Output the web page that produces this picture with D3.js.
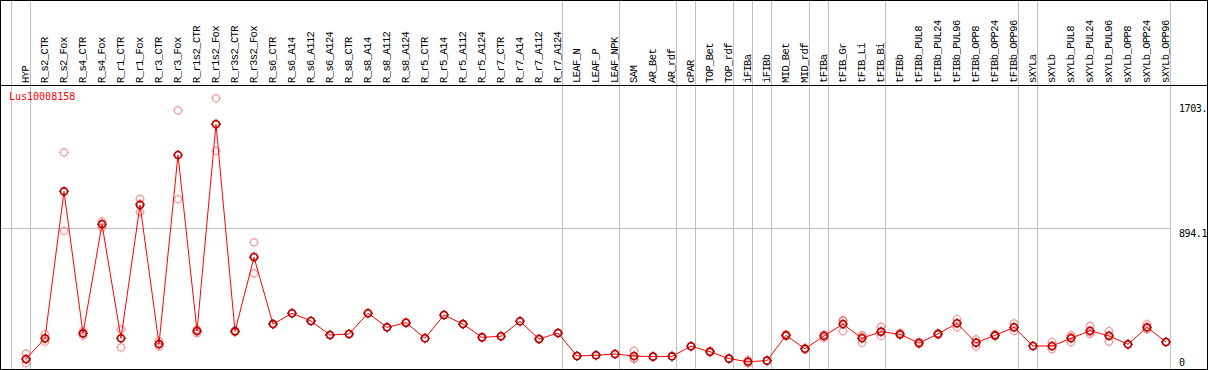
<!DOCTYPE html>
<html>
<head>
<meta charset="utf-8">
<script src="https://cdn.jsdelivr.net/npm/d3@7"></script>
<style>
  body { margin: 0; background: #fff; }
  text { font-family: "DejaVu Sans Mono", monospace; }
  .clabel { font-family: "Liberation Mono", "DejaVu Sans Mono", monospace; }
</style>
</head>
<body>
<div id="chart"></div>
<script>
// data ********************************
var gene = 'Lus10008158';

var categories = ['HYP', 'R_s2_CTR', 'R_s2_Fox', 'R_s4_CTR', 'R_s4_Fox', 'R_r1_CTR', 'R_r1_Fox',
  'R_r3_CTR', 'R_r3_Fox', 'R_r1s2_CTR', 'R_r1s2_Fox', 'R_r3s2_CTR', 'R_r3s2_Fox',
  'R_s6_CTR', 'R_s6_A14', 'R_s6_A112', 'R_s6_A124', 'R_s8_CTR', 'R_s8_A14', 'R_s8_A112', 'R_s8_A124',
  'R_r5_CTR', 'R_r5_A14', 'R_r5_A112', 'R_r5_A124', 'R_r7_CTR', 'R_r7_A14', 'R_r7_A112', 'R_r7_A124',
  'LEAF_N', 'LEAF_P', 'LEAF_NPK', 'SAM', 'AR_Bet', 'AR_rdf', 'cPAR', 'TOP_Bet', 'TOP_rdf',
  'iFIBa', 'iFIBb', 'MID_Bet', 'MID_rdf', 'tFIBa', 'tFIB_Gr', 'tFIB_Li', 'tFIB_Bi',
  'tFIBb', 'tFIBb_PUL8', 'tFIBb_PUL24', 'tFIBb_PUL96', 'tFIBb_OPP8', 'tFIBb_OPP24', 'tFIBb_OPP96',
  'sXYLa', 'sXYLb', 'sXYLb_PUL8', 'sXYLb_PUL24', 'sXYLb_PUL96', 'sXYLb_OPP8', 'sXYLb_OPP24', 'sXYLb_OPP96'];

var means = [47, 181, 1133, 213, 920, 181, 1045, 144, 1369, 228, 1568, 226, 706,
  273, 343, 293, 202, 209, 343, 252, 282, 181, 332, 273, 187, 194, 291, 176, 215,
  66, 71, 79, 66, 62, 64, 129, 94, 49, 29, 36, 200, 113, 196, 273, 181, 224,
  207, 150, 209, 278, 152, 200, 252, 131, 131, 181, 230, 196, 142, 252, 157];

var rep1 = [81, 207, 1386, 228, 937, 239, 1084, 163, 1658, 239, 1736, 230, 803,
  273, 343, 293, 202, 209, 343, 252, 282, 181, 332, 273, 187, 194, 291, 176, 215,
  66, 71, 79, 100, 62, 64, 129, 100, 49, 40, 36, 206, 118, 206, 299, 190, 256,
  216, 158, 214, 306, 174, 206, 278, 131, 157, 200, 261, 228, 142, 273, 157];

var rep2 = [19, 159, 878, 198, 922, 122, 997, 140, 1082, 214, 1395, 221, 602,
  273, 343, 293, 202, 209, 343, 252, 282, 181, 332, 273, 187, 194, 291, 176, 215,
  66, 71, 79, 51, 62, 64, 129, 88, 49, 18, 36, 194, 108, 183, 226, 152, 196,
  203, 143, 203, 252, 126, 194, 228, 131, 110, 155, 209, 159, 142, 240, 157];

var rep3 = [41, 177, 1135, 213, 901, 182, 1054, 129, 1367, 231, 1573, 227, 713,
  273, 343, 293, 202, 209, 343, 252, 282, 181, 332, 273, 187, 194, 291, 176, 215,
  66, 71, 79, 47, 62, 64, 129, 94, 49, 29, 36, 200, 113, 199, 294, 201, 220,
  202, 149, 210, 276, 156, 200, 250, 131, 126, 188, 220, 201, 142, 243, 157];

// y axis: values shown on the right, gridline only at the middle one
var yMax = 1788.2;
var yTicks = [0, 894.1, 1703.6];
var yGrid = [894.1];

// last category of each group (grey separator drawn after it)
var groupEnds = ['HYP', 'R_r7_A124', 'LEAF_NPK', 'AR_rdf', 'cPAR', 'TOP_rdf', 'iFIBa', 'iFIBb',
  'MID_rdf', 'tFIBa', 'tFIB_Bi', 'tFIBb_OPP96', 'sXYLa', 'sXYLb_OPP96'];

// sizes ***********
var svgWidth = 1209;
var svgHeight = 370;
var headerH = 85;
var plotBottom = 369;

var svg = d3.select('#chart')
  .append('svg')
  .attr('width', svgWidth)
  .attr('height', svgHeight);

// scales ***********
var xBand = d3.scaleBand()
  .domain(categories)
  .range([11, 1170]);

var xPoint = c => xBand(c) + 15;

var yScale = d3.scaleLinear()
  .domain([0, yMax])
  .range([366.2, 90.3]);

// grey grid lines ***********
svg.append('line')
  .attr('x1', 11.5).attr('x2', 11.5)
  .attr('y1', 0).attr('y2', plotBottom)
  .attr('stroke', '#c0c0c0');

svg.selectAll('.vgrid')
  .data(groupEnds)
  .enter()
  .append('line')
  .attr('class', 'vgrid')
  .attr('x1', d => Math.round(xBand(d) + xBand.bandwidth()) + 0.5)
  .attr('x2', d => Math.round(xBand(d) + xBand.bandwidth()) + 0.5)
  .attr('y1', 0)
  .attr('y2', plotBottom)
  .attr('stroke', '#c0c0c0');

svg.selectAll('.hgrid')
  .data(yGrid)
  .enter()
  .append('line')
  .attr('class', 'hgrid')
  .attr('x1', 0)
  .attr('x2', 1170)
  .attr('y1', d => Math.round(yScale(d)) + 0.5)
  .attr('y2', d => Math.round(yScale(d)) + 0.5)
  .attr('stroke', '#c0c0c0');

// frame ***********
svg.append('rect')
  .attr('x', 0.5).attr('y', 0.5)
  .attr('width', 1207).attr('height', plotBottom)
  .attr('fill', 'none')
  .attr('stroke', '#000');

svg.append('line')
  .attr('x1', 0).attr('x2', 1208)
  .attr('y1', headerH + 0.5).attr('y2', headerH + 0.5)
  .attr('stroke', '#000');

// category labels, rotated ***********
svg.selectAll('.clabel')
  .data(categories)
  .enter()
  .append('text')
  .attr('class', 'clabel')
  .attr('transform', d => `translate(${xBand(d) + 17.5}, 83) rotate(-90)`)
  .style('font-size', '10.5px')
  .style('letter-spacing', '-0.6px')
  .attr('fill', '#000')
  .text(d => d);

// y tick labels, truncated to 5 chars ***********
svg.selectAll('.ylabel')
  .data(yTicks)
  .enter()
  .append('text')
  .attr('class', 'ylabel')
  .attr('x', 1179)
  .attr('y', d => Math.min(yScale(d) + 8.5, 366))
  .style('font-size', '10px')
  .style('letter-spacing', '-0.4px')
  .attr('fill', '#000')
  .text(d => String(d).slice(0, 5));

// gene name ***********
svg.append('text')
  .attr('x', 9)
  .attr('y', 100)
  .style('font-size', '10px')
  .attr('fill', '#ff0000')
  .text(gene);

// markers: circle with four small ticks
function marker(g, color, width) {
  g.append('circle')
    .attr('r', 3.5)
    .attr('fill', 'none')
    .attr('stroke', color)
    .attr('stroke-width', width);
  g.append('path')
    .attr('d', 'M0,-5V-3.5M0,3.5V5M-5,0H-3.5M3.5,0H5')
    .attr('stroke', color)
    .attr('stroke-width', 1);
}

// replicate points ***********
var reps = [];
categories.forEach(function(c, i) {
  [rep1[i], rep2[i], rep3[i]].forEach(v => reps.push({ c: c, v: v }));
});

svg.selectAll('.rep')
  .data(reps)
  .enter()
  .append('g')
  .attr('class', 'rep')
  .attr('opacity', 0.6)
  .attr('transform', d => `translate(${xPoint(d.c)}, ${yScale(d.v)})`)
  .each(function() { marker(d3.select(this), '#e86060', 1.2); });

// mean line ***********
var line = d3.line()
  .x((d, i) => xPoint(categories[i]))
  .y(d => yScale(d));

svg.append('path')
  .datum(means)
  .attr('d', line)
  .attr('fill', 'none')
  .attr('stroke', '#ff0000')
  .attr('stroke-width', 1);

// mean points ***********
svg.selectAll('.mean')
  .data(means)
  .enter()
  .append('g')
  .attr('class', 'mean')
  .attr('transform', (d, i) => `translate(${xPoint(categories[i])}, ${yScale(d)})`)
  .each(function() { marker(d3.select(this), '#b80000', 1.6); });
</script>
</body>
</html>
